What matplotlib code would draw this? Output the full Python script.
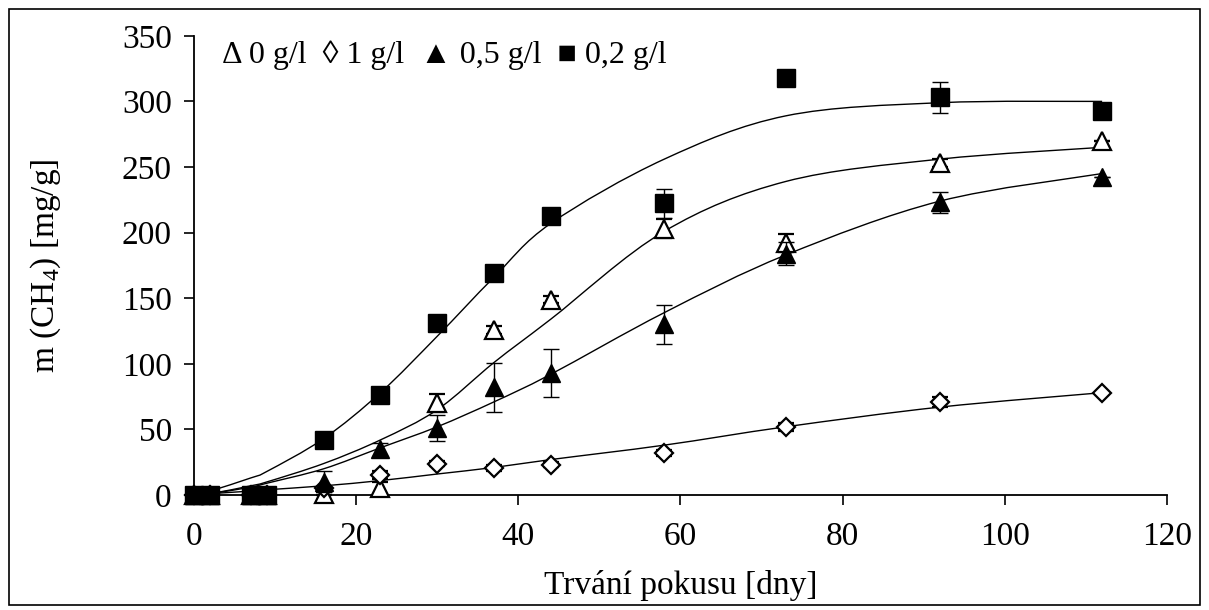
import numpy as np
import matplotlib
matplotlib.use("Agg")
import matplotlib.pyplot as plt
from matplotlib.path import Path
from matplotlib.patches import PathPatch, Rectangle

plt.rcParams['font.family'] = ['Liberation Serif', 'DejaVu Serif']
plt.rcParams['mathtext.fontset'] = 'custom'
plt.rcParams['mathtext.rm'] = 'Liberation Serif'

# ---- data ----
days = [0, 2, 7, 9, 16, 23, 30, 37, 44, 58, 73, 92, 112]

# measured values
m_0 = [0, 0, 0, 0, 1, 5, 70, 126, 149, 203, 192, 253, 270]
m_0_err = [0, 0, 0, 0, 1, 5, 7, 3, 3, 7, 7, 3, 0]
m_1 = [0, 0, 0, 0, 5, 15, 24, 20.5, 23, 32, 52, 71, 78]
m_1_err = [0, 0, 0, 0, 1, 3, 2, 2, 2, 2, 3, 4, 0]
m_05 = [0, 0, 0, 0, 10, 35, 51, 82, 93, 130, 184, 223, 242]
m_05_err = [0, 0, 0, 0, 8, 5, 10, 18.5, 18.5, 15, 9, 8, 0]
m_02 = [0, 0, 0, 0, 42, 76, 131, 169, 213, 222.5, 318, 303, 293]
m_02_err = [0, 0, 0, 0, 2, 5, 3, 3, 3, 11, 3, 11.5, 0]

# fitted model values at the same days
fit_0 = [0, 1, 7, 10, 24, 42, 65, 101, 134, 201, 239, 256, 265]
fit_1 = [0, 1, 3, 4, 7, 11, 16, 21, 27, 38, 52, 67, 78]
fit_05 = [0, 1, 6, 9, 20, 36, 52, 71, 92, 139, 183, 224, 245]
fit_02 = [0, 3, 13, 18, 43, 78, 121, 166, 207, 256, 289, 299, 300]

x_ticks = [0, 20, 40, 60, 80, 100, 120]
y_ticks = [0, 50, 100, 150, 200, 250, 300, 350]
legend_text = "\u0394 0 g/l  \u25ca 1 g/l  \u25b2 0,5 g/l  \u25a0 0,2 g/l"
xlabel = "Trvání pokusu [dny]"
ylabel = r"m (CH$_\mathregular{4}$) [mg/g]"


def smooth_path(xs, ys):
    """Excel-like smoothed line (Bezier through points)."""
    pts = np.column_stack([xs, ys]).astype(float)
    n = len(pts)
    verts = [pts[0]]
    codes = [Path.MOVETO]
    for i in range(n - 1):
        p0 = pts[i - 1] if i > 0 else pts[i]
        p1 = pts[i]
        p2 = pts[i + 1]
        p3 = pts[i + 2] if i + 2 < n else pts[i + 1]
        c1 = p1 + (p2 - p0) / 6.0
        c2 = p2 - (p3 - p1) / 6.0
        verts += [c1, c2, p2]
        codes += [Path.CURVE4] * 3
    return Path(verts, codes)


fig = plt.figure(figsize=(12.09, 6.10), dpi=100)
ax = fig.add_axes([194 / 1209, 1 - 495 / 610, (1167 - 194) / 1209, (495 - 35.8) / 610])

# fitted curves
for fit in (fit_0, fit_1, fit_05, fit_02):
    ax.add_patch(PathPatch(smooth_path(days, fit), facecolor='none',
                           edgecolor='black', lw=1.0, zorder=2, clip_on=False))

ekw = dict(ecolor='black', elinewidth=1.0, capsize=5.5, capthick=1.0, ls='none')
series = [
    (m_0, m_0_err, dict(marker='^', ms=13, mfc='white', mec='black', mew=1.6), 3),
    (m_1, m_1_err, dict(marker='D', ms=8.7, mfc='white', mec='black', mew=1.6), 4),
    (m_05, m_05_err, dict(marker='^', ms=13, mfc='black', mec='black', mew=1.0), 5),
    (m_02, m_02_err, dict(marker='s', ms=13, mfc='black', mec='black', mew=1.0), 6),
]
for vals, errs, mk, z in series:
    cont = ax.errorbar(days, vals, yerr=errs, zorder=z, **mk, **ekw)
    for art in cont.get_children():
        art.set_clip_on(False)

ax.set_xlim(0, 120)
ax.set_ylim(0, 350)
ax.set_xticks(x_ticks)
ax.set_yticks(y_ticks)
ax.tick_params(axis='both', direction='out', labelsize=24, width=1.2, length=7,
               color='black')
ax.tick_params(axis='x', pad=12)
ax.tick_params(axis='y', pad=9)
for s in ('top', 'right'):
    ax.spines[s].set_visible(False)
for s in ('left', 'bottom'):
    ax.spines[s].set_linewidth(1.3)
ax.patch.set_alpha(0)

ax.set_xlabel(xlabel, fontsize=24, labelpad=13)
ax.set_ylabel(ylabel, fontsize=24, labelpad=42)

fig.text(222 / 1209, 1 - 63 / 610, legend_text, fontsize=23, ha='left', va='baseline')

fig.patches.append(Rectangle((9 / 1209, 1 - 605 / 610), (1200 - 9) / 1209, (605 - 9) / 610,
                             transform=fig.transFigure, fill=False, edgecolor='black',
                             lw=1.2, zorder=0))

fig.savefig("out.png", dpi=100)
